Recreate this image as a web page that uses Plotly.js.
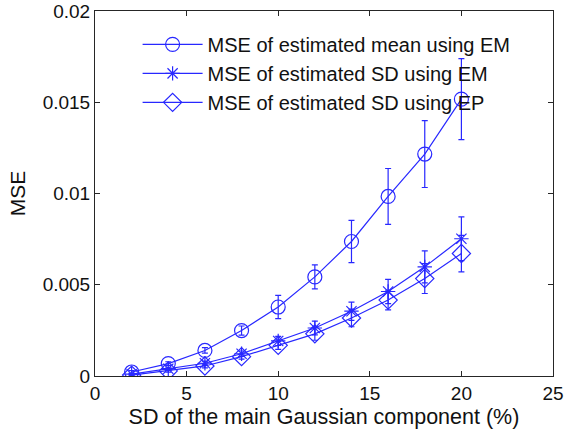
<!DOCTYPE html>
<html>
<head>
<meta charset="utf-8">
<script src="https://cdn.plot.ly/plotly-3.0.1.min.js"></script>
<style>html,body{margin:0;padding:0;background:#fff;}#chart{width:564px;height:430px;}</style>
</head>
<body>
<div id="chart"></div>
<script>
const sdPercent = [2, 4, 6, 8, 10, 12, 14, 16, 18, 20];

const meanEM    = [0.00022, 0.00068, 0.00140, 0.00249, 0.00378, 0.00543, 0.00737, 0.00984, 0.01216, 0.01517];
const meanEMErr = [0.00008, 0.00010, 0.00015, 0.00025, 0.00064, 0.00066, 0.00116, 0.00153, 0.00183, 0.00222];

const sdEM      = [0.00010, 0.00040, 0.00070, 0.00122, 0.00192, 0.00263, 0.00355, 0.00463, 0.00598, 0.00752];
const sdEMErr   = [0.00005, 0.00008, 0.00012, 0.00015, 0.00025, 0.00038, 0.00050, 0.00066, 0.00088, 0.00120];

const sdEP      = [0.00005, 0.00028, 0.00055, 0.00106, 0.00168, 0.00231, 0.00318, 0.00416, 0.00534, 0.00671];
const sdEPErr   = [0.00004, 0.00007, 0.00010, 0.00014, 0.00022, 0.00035, 0.00048, 0.00054, 0.00082, 0.00100];

const seriesNames = [
  'MSE of estimated mean using EM',
  'MSE of estimated SD using EM',
  'MSE of estimated SD using EP'
];
const xTicks = [0, 5, 10, 15, 20, 25];
const yTicks = [0, 0.005, 0.01, 0.015, 0.02];
const yTickText = ['0', '0.005', '0.01', '0.015', '0.02'];

const blue = 'rgb(40,40,255)';

function mk(y, err, name, symbol, size) {
  return {
    x: sdPercent, y: y, name: name, type: 'scatter', mode: 'lines+markers',
    line: {color: blue, width: 1.2},
    marker: {symbol: symbol, size: size, color: blue, line: {color: blue, width: 1.2}},
    error_y: {type: 'data', array: err, visible: true, color: blue, thickness: 1.2, width: 3}
  };
}

const data = [
  mk(meanEM, meanEMErr, seriesNames[0], 'circle-open', 14),
  mk(sdEM, sdEMErr, seriesNames[1], 'asterisk-open', 12),
  mk(sdEP, sdEPErr, seriesNames[2], 'diamond-open', 14)
];

const axisCommon = {
  showgrid: false, zeroline: false,
  showline: true, linecolor: '#262626', linewidth: 1,
  mirror: 'ticks', ticks: 'inside', ticklen: 5, tickcolor: '#262626', tickwidth: 1,
  tickfont: {family: 'Liberation Sans, Arial, sans-serif', size: 19, color: '#111'}
};

const layout = {
  width: 564, height: 430,
  margin: {l: 95, r: 11, t: 11, b: 54},
  paper_bgcolor: '#fff', plot_bgcolor: '#fff',
  showlegend: true,
  legend: {
    x: 0.093, y: 0.962, xanchor: 'left', yanchor: 'top',
    bgcolor: 'rgba(0,0,0,0)', borderwidth: 0,
    itemwidth: 60,
    font: {family: 'Liberation Sans, Arial, sans-serif', size: 20, color: '#111'}
  },
  xaxis: Object.assign({}, axisCommon, {
    range: [0, 25], tickvals: xTicks, ticktext: xTicks.map(String),
    title: {text: 'SD of the main Gaussian component (%)', standoff: 6,
            font: {family: 'Liberation Sans, Arial, sans-serif', size: 21.5, color: '#111'}}
  }),
  yaxis: Object.assign({}, axisCommon, {
    range: [0, 0.02], tickvals: yTicks, ticktext: yTickText,
    title: {text: 'MSE', standoff: 11,
            font: {family: 'Liberation Sans, Arial, sans-serif', size: 21, color: '#111'}}
  })
};

Plotly.newPlot('chart', data, layout, {displayModeBar: false, staticPlot: true});
</script>
</body>
</html>
